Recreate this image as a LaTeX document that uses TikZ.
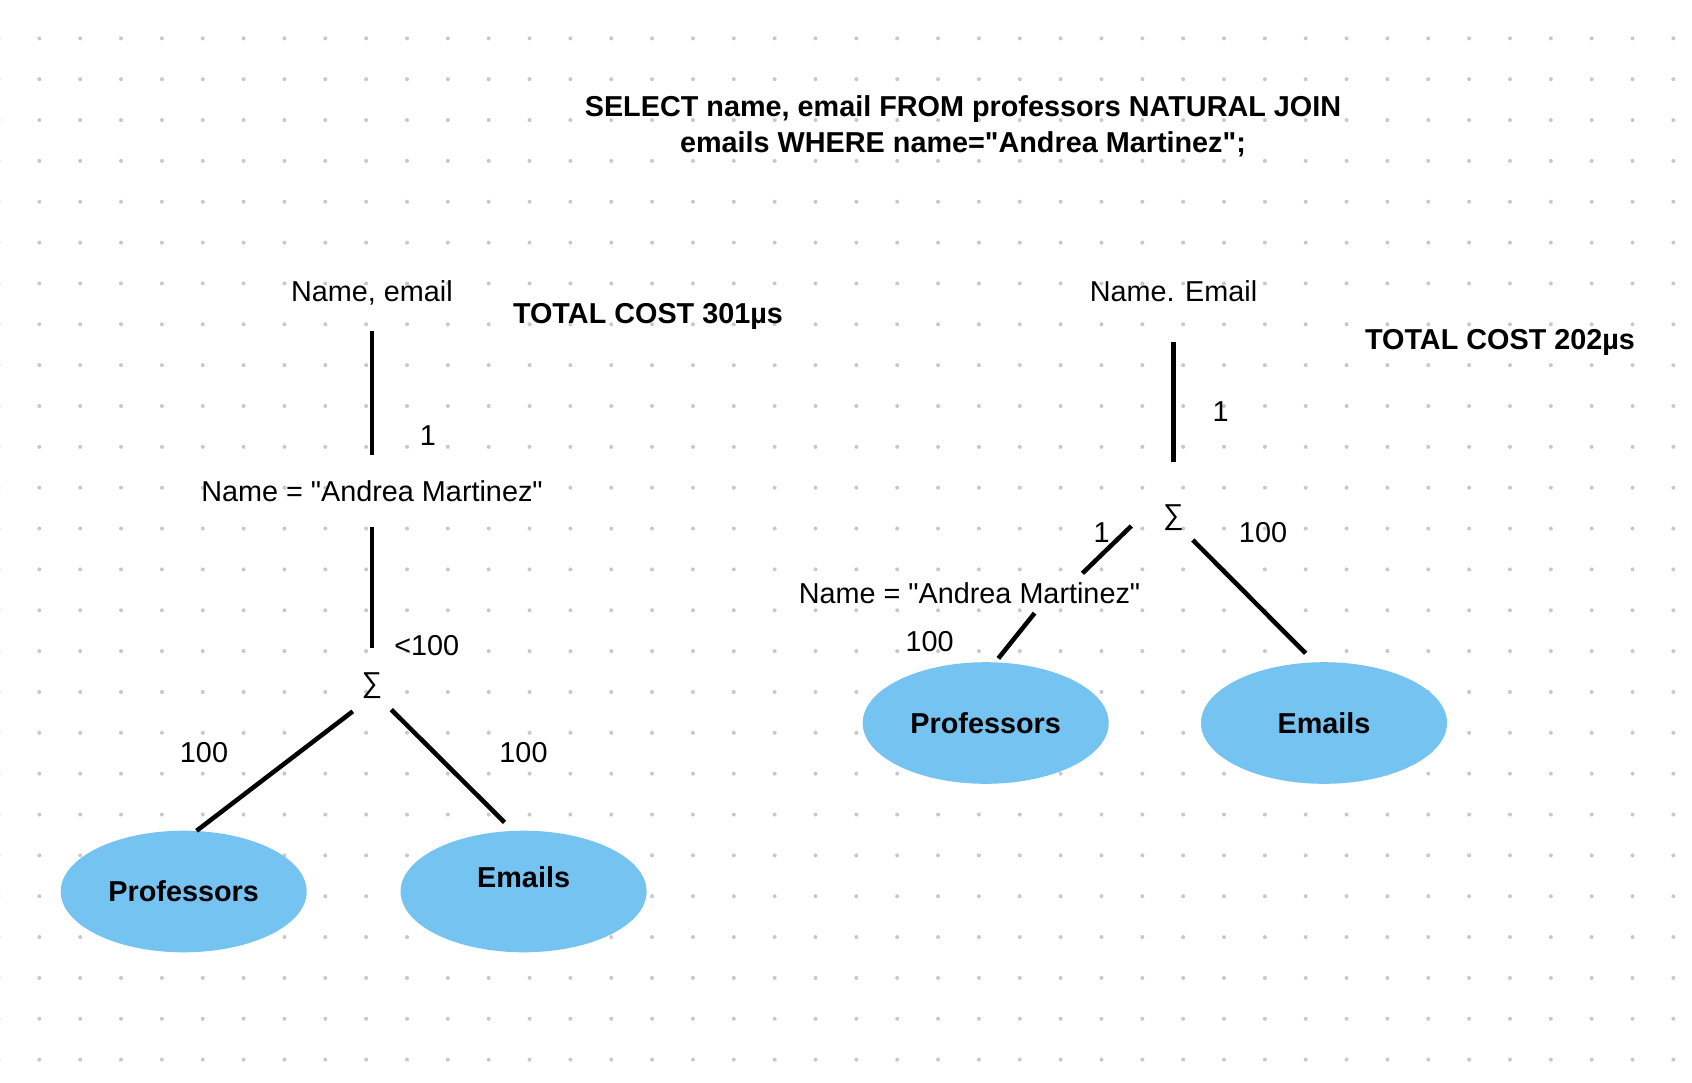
\documentclass[tikz,border=0pt]{standalone}
\usepackage{fontspec}
\setmainfont{Liberation Sans}[Ligatures=TeXOff]
\usepackage{xcolor}
\usetikzlibrary{shapes.geometric}
\definecolor{relblue}{RGB}{117,195,240}
\definecolor{dotgray}{RGB}{200,200,200}
\newcommand{\treefont}{\fontsize{21.6pt}{26.8pt}\selectfont}

\begin{document}
\begin{tikzpicture}[x=0.75pt,y=-0.75pt,
 link/.style={line width=3.4pt},
 tag/.style={font=\treefont,inner xsep=0pt,inner ysep=19pt},
 cnt/.style={font=\treefont,inner sep=0pt,anchor=base},
 cost/.style={font=\treefont\bfseries,inner sep=0pt,anchor=base},
 op/.style={font=\treefont,inner sep=0pt,minimum width=28.5pt,minimum height=56pt},
 rel/.style={ellipse,fill=relblue,inner sep=0pt,minimum width=184.5pt,minimum height=91.2pt,font=\treefont\bfseries}]
 \useasboundingbox (0,0) rectangle (1692,1082);
 \fill[white] (0,0) rectangle (1692,1082);
 \foreach \i in {0,...,41}
  \foreach \j in {1,...,26}
   \fill[dotgray] ({-1.5+40.85*\i},{-2.5+40.85*\j}) circle (1.5pt);

 \node[font=\treefont\bfseries,align=center,inner sep=0pt] (query) at (963,126)
  {SELECT name, email FROM professors NATURAL JOIN\\emails WHERE name="Andrea Martinez";};

 \node[tag] (projL) at (372,293) {Name, email};
 \node[tag] (selL) at (372,490.7) {Name = "Andrea Martinez"};
 \node[op] (joinL) at (372,685.8) {∑};
 \node[rel] (profL) at (183.7,891.5) {Professors};
 \node[rel,text depth=21pt] (mailL) at (523.6,891.5) {Emails};
 \node[cost] (costL) at (648,323.6) {TOTAL COST 301µs};

 \draw[link] (projL) -- (selL);
 \draw[link] (selL) -- (joinL);
 \draw[link] (joinL.-127) -- (profL.78);
 \draw[link,shorten >=8.9pt] (joinL.-51) -- (mailL.100);

 \node[cnt] (nL1) at (428,445.3) {1};
 \node[cnt] (nL2) at (426.7,655.3) {<100};
 \node[cnt] (nL3) at (204,762) {100};
 \node[cnt] (nL4) at (523.5,762) {100};

 \node[tag] (projR) at (1173.5,291.4) {Name. Email};
 \node[op] (joinR) at (1173.5,517.8) {∑};
 \node[tag,inner ysep=6.8pt] (selR) at (969.5,593.2) {Name = "Andrea Martinez"};
 \node[rel] (profR) at (985.7,723) {Professors};
 \node[rel] (mailR) at (1324,723) {Emails};
 \node[cost] (costR) at (1500,349.8) {TOTAL COST 202µs};

 \draw[link,shorten <=10.6pt,shorten >=13.4pt] (projR) -- (joinR);
 \draw[link,shorten <=23.9pt] (joinR.144) -- (selR.10.7);
 \draw[link,shorten >=3.6pt] (selR.-17.2) -- (profR.81);
 \draw[link,shorten >=9.3pt] (joinR.-49.4) -- (mailR.99.3);

 \node[cnt] (nR1) at (1220.7,421.7) {1};
 \node[cnt] (nR2) at (1101.7,542) {1};
 \node[cnt] (nR3) at (1263,542) {100};
 \node[cnt] (nR4) at (929.6,651.5) {100};
\end{tikzpicture}
\end{document}
